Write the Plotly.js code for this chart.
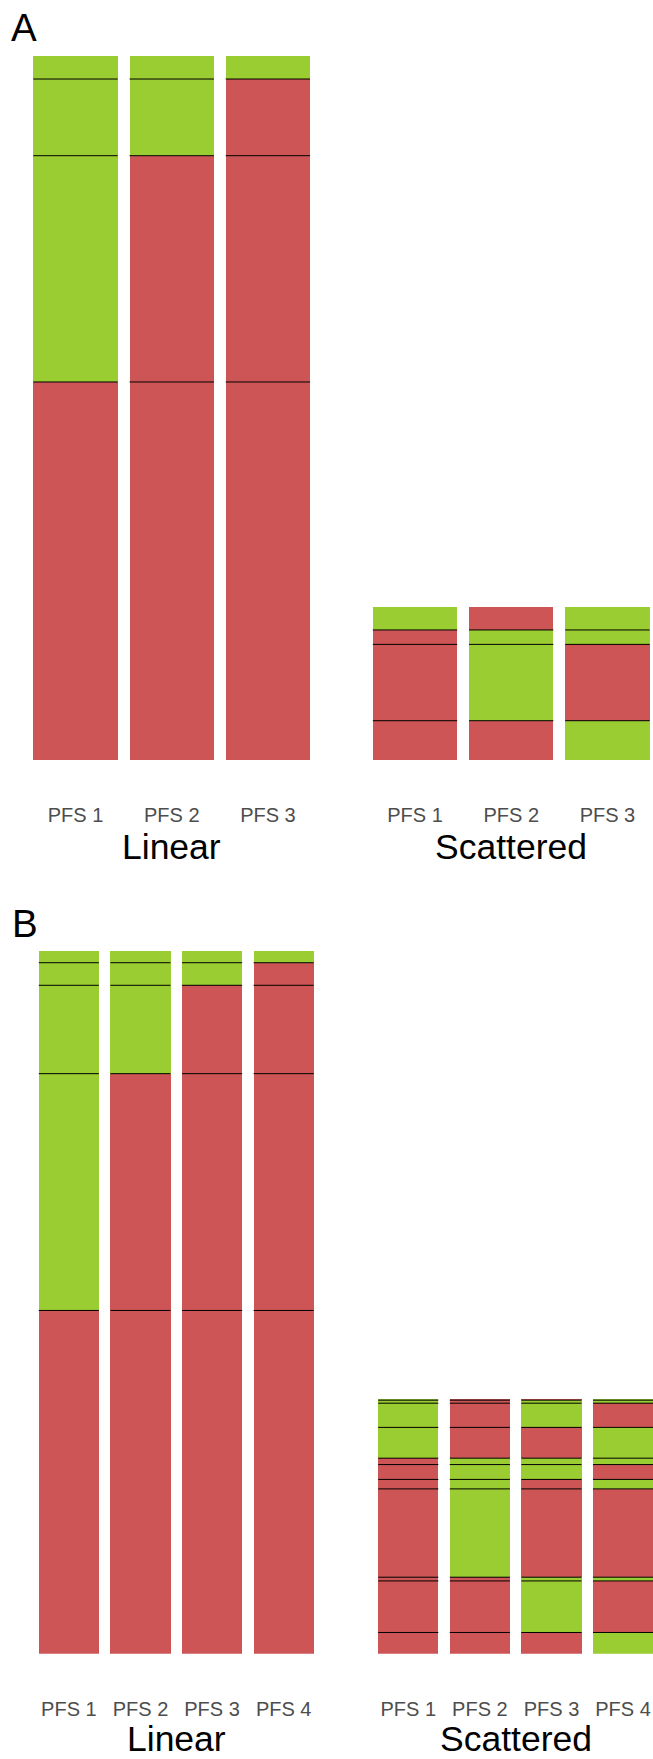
<!DOCTYPE html>
<html>
<head>
<meta charset="utf-8">
<script src="https://cdn.plot.ly/plotly-3.0.1.min.js"></script>
<style>
  html, body { margin: 0; padding: 0; background: #ffffff; }
  #chart { width: 653px; height: 1759px; }
</style>
</head>
<body>
<div id="chart"></div>
<script>
// Category labels for the two panels
const catsA = ['PFS 1', 'PFS 2', 'PFS 3'];
const catsB = ['PFS 1', 'PFS 2', 'PFS 3', 'PFS 4'];

// Segment sizes, listed bottom to top (shared by every bar of a facet)
const segLinearA    = [53.69, 32.14, 10.89, 3.27];
const segScatteredA = [5.58, 10.84, 2.05, 3.21];
const segLinearB    = [48.82, 33.68, 12.57, 3.21, 1.71];
const segScatteredB = [3.02, 7.33, 0.53, 12.56, 1.35, 2.11, 0.91, 4.38, 3.44, 0.43, 0.14];

// Segment state per bar, bottom to top: R = red, G = green
const stateLinearA    = ['RGGG', 'RRGG', 'RRRG'];
const stateScatteredA = ['RRRG', 'RGGR', 'GRGG'];
const stateLinearB    = ['RGGGG', 'RRGGG', 'RRRGG', 'RRRRG'];
const stateScatteredB = ['RRRRRRRGGGG', 'RRRGGGGRRRR', 'RGGRRGGRGGR', 'GRGRGRGGRGG'];

// Facet labels
const facetNames = ['Linear', 'Scattered'];
const panelTags = ['A', 'B'];

const GREEN = '#9ACD32';
const RED = '#CD5555';
const W = 653, H = 1759;
const FONT = 'Liberation Sans, Arial, sans-serif';

const px = v => v / W;          // horizontal pixel -> paper
const py = v => 1 - v / H;      // vertical pixel -> paper

const traces = [];

function addFacet(ax, cats, seg, state, barWidth) {
  const xs = cats.map((_, i) => i + 1);
  seg.forEach((h, k) => {
    traces.push({
      type: 'bar',
      x: xs,
      y: xs.map(() => h),
      width: barWidth,
      marker: { color: state.map(s => s[k] === 'G' ? GREEN : RED), line: { width: 0 } },
      xaxis: 'x' + ax, yaxis: 'y' + ax,
      hoverinfo: 'skip', showlegend: false
    });
  });
  // black separators at each internal segment boundary
  const lx = [], ly = [];
  xs.forEach(x => {
    let cum = 0;
    for (let k = 0; k < seg.length - 1; k++) {
      cum += seg[k];
      lx.push(x - barWidth / 2, x + barWidth / 2, null);
      ly.push(cum, cum, null);
    }
  });
  traces.push({
    type: 'scatter', mode: 'lines', x: lx, y: ly,
    line: { color: '#000000', width: 1 },
    xaxis: 'x' + ax, yaxis: 'y' + ax,
    hoverinfo: 'skip', showlegend: false
  });
}

const total = a => a.reduce((s, v) => s + v, 0);
const maxA = Math.max(total(segLinearA), total(segScatteredA));
const maxB = Math.max(total(segLinearB), total(segScatteredB));

addFacet('', catsA, segLinearA, stateLinearA, 0.877);
addFacet('2', catsA, segScatteredA, stateScatteredA, 0.877);
addFacet('3', catsB, segLinearB, stateLinearB, 0.84);
addFacet('4', catsB, segScatteredB, stateScatteredB, 0.84);

// panel geometry (pixels)
const geomA = { start: 17.8, step: 96.2, offset: 339.5, top: 56, bottom: 760, n: 3 };
const geomB = { start: 25.9, step: 71.6, offset: 339.4, top: 950.7, bottom: 1653.7, n: 4 };

function xAxis(cats, g, right, standoff) {
  const startPx = g.start + (right ? g.offset : 0);
  const endPx = right ? W : g.start + (g.n + 0.2) * g.step;
  return {
    domain: [px(startPx), px(endPx)],
    range: [0.4, 0.4 + (endPx - startPx) / g.step],
    tickvals: cats.map((_, i) => i + 1),
    ticktext: cats,
    tickfont: { family: FONT, size: 20, color: '#4D4D4D' },
    ticks: '',
    ticklabelstandoff: standoff,
    showgrid: false, zeroline: false, showline: false,
    fixedrange: true, automargin: false
  };
}
function yAxis(g, maxV, anchor) {
  return {
    domain: [py(g.bottom), py(g.top)],
    range: [0, maxV],
    visible: false, showgrid: false, zeroline: false,
    fixedrange: true, anchor: anchor
  };
}

const layout = {
  width: W, height: H,
  margin: { l: 0, r: 0, t: 0, b: 0 },
  paper_bgcolor: '#ffffff', plot_bgcolor: 'rgba(0,0,0,0)',
  barmode: 'stack', bargap: 0,
  showlegend: false,
  xaxis:  Object.assign(xAxis(catsA, geomA, false, 41), { anchor: 'y' }),
  xaxis2: Object.assign(xAxis(catsA, geomA, true, 41), { anchor: 'y2' }),
  xaxis3: Object.assign(xAxis(catsB, geomB, false, 41), { anchor: 'y3' }),
  xaxis4: Object.assign(xAxis(catsB, geomB, true, 41), { anchor: 'y4' }),
  yaxis:  yAxis(geomA, maxA, 'x'),
  yaxis2: yAxis(geomA, maxA, 'x2'),
  yaxis3: yAxis(geomB, maxB, 'x3'),
  yaxis4: yAxis(geomB, maxB, 'x4'),
  annotations: [
    { text: facetNames[0], x: px(171.5), y: py(847) },
    { text: facetNames[1], x: px(511), y: py(847) },
    { text: facetNames[0], x: px(176.5), y: py(1739) },
    { text: facetNames[1], x: px(515.5), y: py(1739) }
  ].map(a => Object.assign(a, {
    xref: 'paper', yref: 'paper', xanchor: 'center', yanchor: 'middle',
    showarrow: false, font: { family: FONT, size: 35.5, color: '#000000' }
  })).concat([
    { text: panelTags[0], x: px(9), y: py(27.5) },
    { text: panelTags[1], x: px(10), y: py(923) }
  ].map(a => Object.assign(a, {
    xref: 'paper', yref: 'paper', xanchor: 'left', yanchor: 'middle',
    showarrow: false, font: { family: FONT, size: 38.5, color: '#000000' }
  })))
};

Plotly.newPlot('chart', traces, layout, { staticPlot: true, displayModeBar: false });
</script>
</body>
</html>
